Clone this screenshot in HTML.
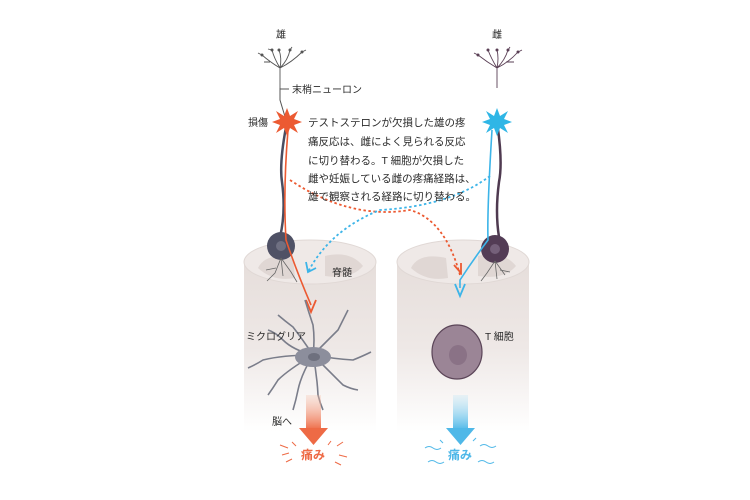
<!DOCTYPE html>
<html><head><meta charset="utf-8"><style>
html,body{margin:0;padding:0;background:#fff;width:750px;height:500px;overflow:hidden}
text{font-family:"Liberation Sans","Noto Sans CJK JP",sans-serif;fill:#2a2a2a}
</style></head><body>
<svg width="750" height="500" viewBox="0 0 750 500" xmlns="http://www.w3.org/2000/svg">
<defs>
<linearGradient id="cyl" x1="0" y1="0" x2="0" y2="1">
<stop offset="0" stop-color="#e6dedb"/><stop offset="0.5" stop-color="#eee8e6"/><stop offset="1" stop-color="#fff"/>
</linearGradient>
<linearGradient id="rg" x1="0" y1="0" x2="0" y2="1"><stop offset="0" stop-color="#f6c4b0" stop-opacity="0.3"/><stop offset="1" stop-color="#ee6a45"/></linearGradient>
<linearGradient id="bg" x1="0" y1="0" x2="0" y2="1"><stop offset="0" stop-color="#bfe6f6" stop-opacity="0.3"/><stop offset="1" stop-color="#4fb8e8"/></linearGradient>
</defs>
<g>
<rect x="244" y="262" width="132" height="170" fill="url(#cyl)"/>
<ellipse cx="310" cy="262" rx="66" ry="22" fill="#efe9e7" stroke="#e0d8d5"/>
<path d="M258 268 q8 -16 35 -10 l2 20 q-22 4 -37 -10z" fill="#e0d7d4"/>
<path d="M325 256 q25 -6 38 10 q-12 14 -38 10z" fill="#e0d7d4"/>
<rect x="397" y="262" width="132" height="170" fill="url(#cyl)"/>
<ellipse cx="463" cy="262" rx="66" ry="22" fill="#efe9e7" stroke="#e0d8d5"/>
<path d="M411 268 q8 -16 35 -10 l2 20 q-22 4 -37 -10z" fill="#e0d7d4"/>
<path d="M478 256 q25 -6 38 10 q-12 14 -38 10z" fill="#e0d7d4"/>
</g>
<g fill="none" stroke="#555" stroke-width="0.9">
<path d="M280 88 L280 68 M280 68 Q270 62 262 55 M280 68 Q274 58 272 50 M280 68 Q282 58 279 50 M280 68 Q288 60 290 50 M280 68 Q292 62 302 52 M262 55 L258 53 M272 50 L268 49 M290 50 L292 47 M302 52 L306 50 M270 62 L264 62"/>
</g>
<g fill="none" stroke="#5a3f55" stroke-width="0.9">
<path d="M497 88 L497 68 M497 68 Q487 62 478 55 M497 68 Q491 58 488 50 M497 68 Q499 58 497 50 M497 68 Q505 60 508 50 M497 68 Q509 62 518 52 M478 55 L474 53 M508 50 L510 47 M518 52 L522 50 M506 62 L514 62"/>
</g>
<g fill="#555"><circle cx="262" cy="55" r="1.5"/><circle cx="272" cy="50" r="1.5"/><circle cx="279" cy="50" r="1.5"/><circle cx="290" cy="50" r="1.5"/><circle cx="302" cy="52" r="1.5"/></g>
<g fill="#5a3f55"><circle cx="478" cy="55" r="1.5"/><circle cx="488" cy="50" r="1.5"/><circle cx="497" cy="50" r="1.5"/><circle cx="508" cy="50" r="1.5"/><circle cx="518" cy="52" r="1.5"/></g>
<path d="M280 88 L280 100 L286 120" stroke="#555" fill="none"/>
<line x1="280" y1="89" x2="289" y2="89" stroke="#555"/>
<path d="M287 122 q-8 40 -5 60 q4 30 -2 55" stroke="#4a4d60" stroke-width="2.5" fill="none"/>
<path d="M497 122 q6 40 2 60 q-4 30 0 55" stroke="#4f3a50" stroke-width="2.5" fill="none"/>
<circle cx="281" cy="246" r="14" fill="#4f5165"/><circle cx="281" cy="246" r="5" fill="#6f7082"/>
<circle cx="495" cy="249" r="14" fill="#533c55"/><circle cx="495" cy="249" r="5" fill="#75607a"/>
<g stroke="#666" stroke-width="0.8" fill="none">
<path d="M281 258 l-6 15 l-8 8 M281 258 l2 18 M281 258 l10 14 l6 10 M276 268 l-10 2"/>
<path d="M495 261 l-8 12 l-6 8 M495 261 l2 18 M495 261 l10 14 M500 270 l10 2"/>
</g>
<path d="M288 130 q-5 60 -2 110 q10 30 25 65" stroke="#ec5a32" stroke-width="1.6" fill="none"/>
<path d="M306 300 l5 12 l5 -12" stroke="#ec5a32" stroke-width="1.8" fill="none"/>
<path d="M492 130 q-5 80 -4 110 q-15 20 -28 40 l0 8" stroke="#3cb4e8" stroke-width="1.6" fill="none"/>
<path d="M455 284 l5 12 l5 -12" stroke="#3cb4e8" stroke-width="1.8" fill="none"/>
<path d="M290 180 q60 40 120 30 q35 10 50 65" stroke="#ec5a32" stroke-width="1.8" stroke-dasharray="2.5 2.5" fill="none"/>
<path d="M454 265 l7 8 l0 -10" stroke="#ec5a32" stroke-width="1.8" fill="none"/>
<path d="M490 176 q-40 30 -110 34 q-50 20 -72 62" stroke="#3cb4e8" stroke-width="1.8" stroke-dasharray="2.5 2.5" fill="none"/>
<path d="M306 262 l2 10 l8 -4" stroke="#3cb4e8" stroke-width="1.8" fill="none"/>
<polygon points="287,108 290,116 298,111 294,119 302,122 294,125 298,133 290,128 287,136 284,128 276,133 280,125 272,122 280,119 276,111 284,116" fill="#ec5a32"/>
<polygon points="497,108 500,116 508,111 504,119 512,122 504,125 508,133 500,128 497,136 494,128 486,133 490,125 482,122 490,119 486,111 494,116" fill="#2fb6e6"/>
<g stroke="#7a7d8a" stroke-width="1.6" fill="none">
<path d="M313 355 q-20 -5 -30 -15 q-8 -8 -15 -10 M313 355 q-30 0 -50 5 q-8 5 -15 8 M313 355 q-25 15 -35 25 q-5 8 -10 15 M313 355 q-12 20 -15 35 q-2 10 -5 20 M313 355 q4 20 5 40 q2 8 5 15 M313 355 q18 18 30 30 q8 4 15 5 M313 355 q22 4 40 5 q10 -4 18 -8 M313 355 q15 -15 25 -25 q5 -10 10 -20 M313 355 q2 -15 0 -30 q-4 -12 -8 -25 M313 355 q-10 -15 -20 -28 q-8 -6 -15 -12"/>
</g>
<ellipse cx="313" cy="357" rx="18" ry="10" fill="#8c8e9c"/>
<ellipse cx="314" cy="357" rx="6" ry="4" fill="#6e707e"/>
<ellipse cx="457" cy="352" rx="25" ry="27" fill="#9b8596" stroke="#5b4558" stroke-width="1.2"/>
<ellipse cx="458" cy="355" rx="9" ry="10" fill="#8a7286"/>
<rect x="306" y="395" width="15" height="35" fill="url(#rg)"/>
<polygon points="299,428 328,428 313.5,445" fill="#ee6a45"/>
<rect x="453" y="395" width="15" height="35" fill="url(#bg)"/>
<polygon points="446,428 475,428 460.5,445" fill="#4fb8e8"/>
<g stroke="#ee6a45" stroke-width="1" fill="none">
<path d="M280 445 l8 3 M282 455 l7 -2 M286 462 l6 -3 M337 446 l6 -4 M339 455 l8 2 M335 462 l6 3 M292 442 l4 4 M331 441 l-3 4"/>
</g>
<g stroke="#4fb8e8" stroke-width="1" fill="none">
<path d="M425 448 q4 -3 8 0 t8 0 M428 462 q4 -3 8 0 t8 0 M480 446 q4 -3 8 0 t8 0 M478 462 q4 -3 8 0 t8 0 M440 440 l3 3 M476 438 l-3 3"/>
</g>
<g font-size="10">
<text x="281" y="38" text-anchor="middle">雄</text>
<text x="497" y="38" text-anchor="middle">雌</text>
<text x="292" y="93">末梢ニューロン</text>
<text x="248" y="126">損傷</text>
<text x="332" y="276">脊髄</text>
<text x="246" y="340">ミクログリア</text>
<text x="485" y="340">T 細胞</text>
<text x="272" y="425">脳へ</text>
</g>
<g font-size="10.5">
<text x="308" y="126">テストステロンが欠損した雄の疼</text>
<text x="308" y="145">痛反応は、雌によく見られる反応</text>
<text x="308" y="164">に切り替わる。T 細胞が欠損した</text>
<text x="308" y="182">雌や妊娠している雌の疼痛経路は、</text>
<text x="308" y="200">雄で観察される経路に切り替わる。</text>
</g>
<text x="313" y="459" text-anchor="middle" font-size="12" font-weight="bold" style="fill:#ee6a45">痛み</text>
<text x="460" y="459" text-anchor="middle" font-size="12" font-weight="bold" style="fill:#4fb8e8">痛み</text>
</svg>
</body></html>
